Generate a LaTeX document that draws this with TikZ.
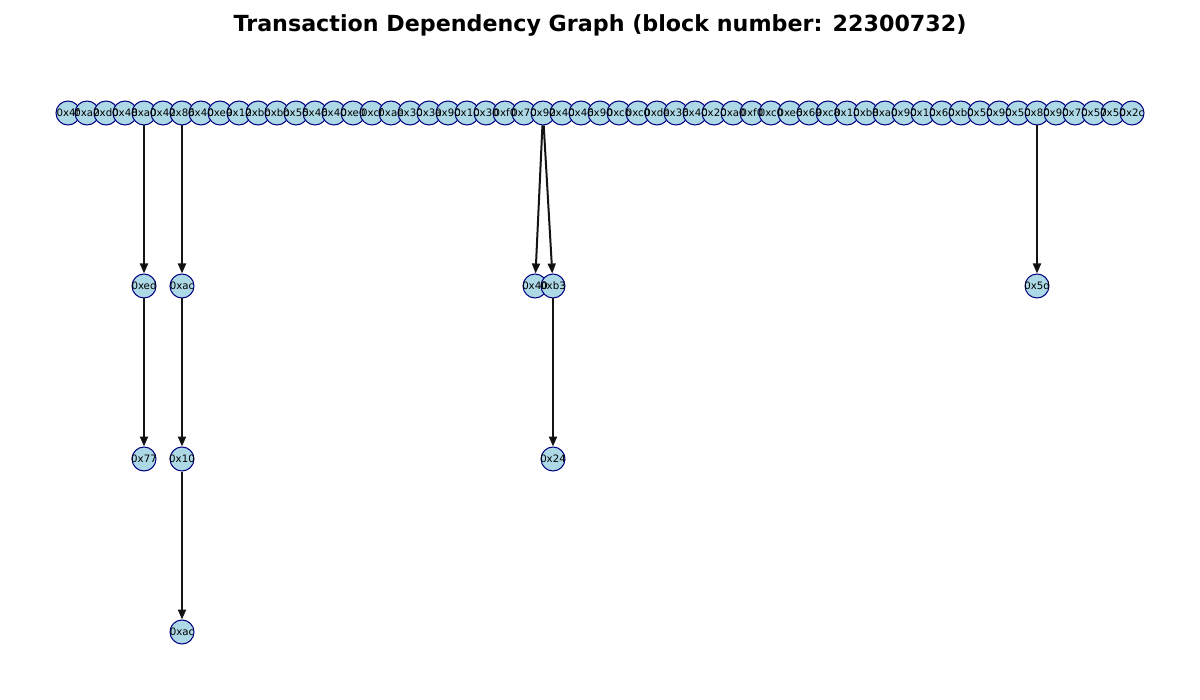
\documentclass[tikz,border=0pt]{standalone}
\usepackage{fontspec}
\setmainfont{DejaVu Sans}
\usetikzlibrary{arrows.meta, positioning}
\definecolor{lightblue}{RGB}{173,216,230}
\definecolor{navyblue}{RGB}{0,0,128}
\definecolor{edgegray}{RGB}{20,20,20}

\begin{document}
\begin{tikzpicture}
	[x=0.5pt, y=-0.5pt, >={Triangle[length=5pt,width=4pt]}, node distance=74pt,
	tx node/.style={circle, draw=navyblue, fill=lightblue, line width=0.5pt, minimum size=12pt, inner sep=0pt},
	tx label/.style={font=\fontsize{5.1}{6}\selectfont, inner sep=0pt},
	dep/.style={->, draw=edgegray, line width=1pt}]
	\useasboundingbox (0,0) rectangle (1200,700);
	\node (title) at (600,25) {\fontsize{11.1}{13}\selectfont\bfseries Transaction Dependency Graph (block number: 22300732)};
	% top row of transactions
	\foreach \i in {1,...,57}
		\node (t\i) [tx node] at (68+19*\i-19,113) {};
	% dependent transactions
	\node (ed) [tx node, below = of t5] {};
	\node (sev) [tx node, below = of ed] {};
	\node (ac) [tx node, below = of t7] {};
	\node (ten) [tx node, below = of ac] {};
	\node (acb) [tx node, below = of ten] {};
	\node (fo) [tx node] at (535,286) {};
	\node (bt) [tx node] at (553,286) {};
	\node (tf) [tx node, below = of bt] {};
	\node (fd) [tx node, below = of t52] {};
	% labels on top of the circles
	\foreach \i/\h in {1/0x4f,2/0xa2,3/0xd0,4/0x48,5/0xa0,6/0x42,7/0x86,8/0x40,9/0xe9,10/0x12,11/0xbb,12/0xbb,13/0x55,14/0x46,15/0x40,16/0xe0,17/0xcf,18/0xae,19/0x30,20/0x3a,21/0x90,22/0x10,23/0x30,24/0xf0,25/0x70,26/0x92,27/0x40,28/0x46,29/0x90,30/0xcb,31/0xc0,32/0xde,33/0x36,34/0x40,35/0x20,36/0xa0,37/0xf0,38/0xc0,39/0xe6,40/0x69,41/0xc8,42/0x10,43/0xb8,44/0xa0,45/0x90,46/0x10,47/0x60,48/0xb0,49/0x50,50/0x90,51/0x50,52/0x80,53/0x90,54/0x70,55/0x57,56/0x50,57/0x2c}
		\node (l\i) [tx label] at (t\i) {\h};
	\foreach \n/\h in {ed/0xed,sev/0x77,ac/0xac,ten/0x10,acb/0xac,fo/0x40,bt/0xb3,tf/0x24,fd/0x5d}
		\node (l\n) [tx label] at (\n) {\h};
	\path[dep]
	(t5) edge (ed)
	(ed) edge (sev)
	(t7) edge (ac)
	(ac) edge (ten)
	(ten) edge (acb)
	(t26) edge (fo)
	(t26) edge (bt)
	(bt) edge (tf)
	(t52) edge (fd);
\end{tikzpicture}
\end{document}
